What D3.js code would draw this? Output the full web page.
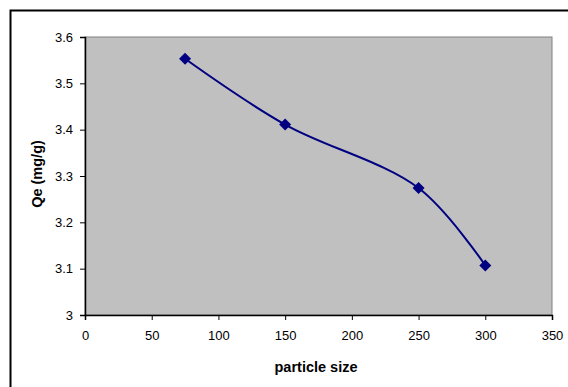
<!DOCTYPE html>
<html>
<head>
<meta charset="utf-8">
<script src="https://cdn.jsdelivr.net/npm/d3@7"></script>
<style>
  body { margin: 0; background: #fff; }
  text { font-family: "Liberation Sans", Arial, sans-serif; }
</style>
</head>
<body>
<script>
const particleSize = [75, 150, 250, 300];
const qe = [3.553, 3.411, 3.274, 3.107];
const xTicks = [0, 50, 100, 150, 200, 250, 300, 350];
const yTicks = [3, 3.1, 3.2, 3.3, 3.4, 3.5, 3.6];

const width = 568, height = 387;
const plot = { left: 85, top: 37, right: 552, bottom: 315 };

const svg = d3.select('body').append('svg')
  .attr('width', width)
  .attr('height', height);

// chart frame (right and bottom run off the page)
svg.append('rect')
  .attr('x', 10.5).attr('y', 10.5)
  .attr('width', 570).attr('height', 390)
  .attr('fill', '#fff')
  .attr('stroke', '#000')
  .attr('stroke-width', 2);

const x = d3.scaleLinear().domain([0, 350]).range([plot.left, plot.right]);
const y = d3.scaleLinear().domain([3, 3.6]).range([plot.bottom, plot.top]);

svg.append('rect')
  .attr('x', plot.left).attr('y', plot.top)
  .attr('width', plot.right - plot.left)
  .attr('height', plot.bottom - plot.top)
  .attr('fill', '#c0c0c0')
  .attr('stroke', '#808080')
  .attr('stroke-width', 1);

const xAxis = svg.append('g')
  .attr('transform', `translate(0,${plot.bottom})`)
  .call(d3.axisBottom(x).tickValues(xTicks).tickSize(5).tickFormat(d3.format('d')));

const yAxis = svg.append('g')
  .attr('transform', `translate(${plot.left},0)`)
  .call(d3.axisLeft(y).tickValues(yTicks).tickSize(5).tickFormat(d => d === 3 ? '3' : d3.format('.1f')(d)));

[xAxis, yAxis].forEach(g => {
  g.select('.domain').attr('stroke', '#000').attr('stroke-width', 1.5);
  g.selectAll('.tick line').attr('stroke', '#000');
  g.selectAll('.tick text')
    .attr('fill', '#000')
    .style('font-size', '13px')
    .style('font-family', '"Liberation Sans", Arial, sans-serif');
});
xAxis.selectAll('.tick text').attr('y', 16).attr('dy', '0.71em');
yAxis.selectAll('.tick text').attr('x', -12);

const pts = particleSize.map((d, i) => [d, qe[i]]);

svg.append('path')
  .datum(pts)
  .attr('d', d3.line().x(d => x(d[0])).y(d => y(d[1])).curve(d3.curveCatmullRom.alpha(0.5)))
  .attr('fill', 'none')
  .attr('stroke', '#000080')
  .attr('stroke-width', 2);

svg.selectAll('.marker')
  .data(pts)
  .join('path')
  .attr('class', 'marker')
  .attr('d', d3.symbol().type(d3.symbolSquare).size(72))
  .attr('transform', d => `translate(${x(d[0])},${y(d[1])}) rotate(45)`)
  .attr('fill', '#000080');

svg.append('text')
  .attr('x', 316)
  .attr('y', 372)
  .attr('text-anchor', 'middle')
  .style('font-size', '14.5px')
  .style('font-weight', 'bold')
  .text('particle size');

svg.append('text')
  .attr('transform', `translate(42,${(plot.top + plot.bottom) / 2 - 2}) rotate(-90)`)
  .attr('text-anchor', 'middle')
  .style('font-size', '14.5px')
  .style('font-weight', 'bold')
  .text('Qe (mg/g)');
</script>
</body>
</html>
